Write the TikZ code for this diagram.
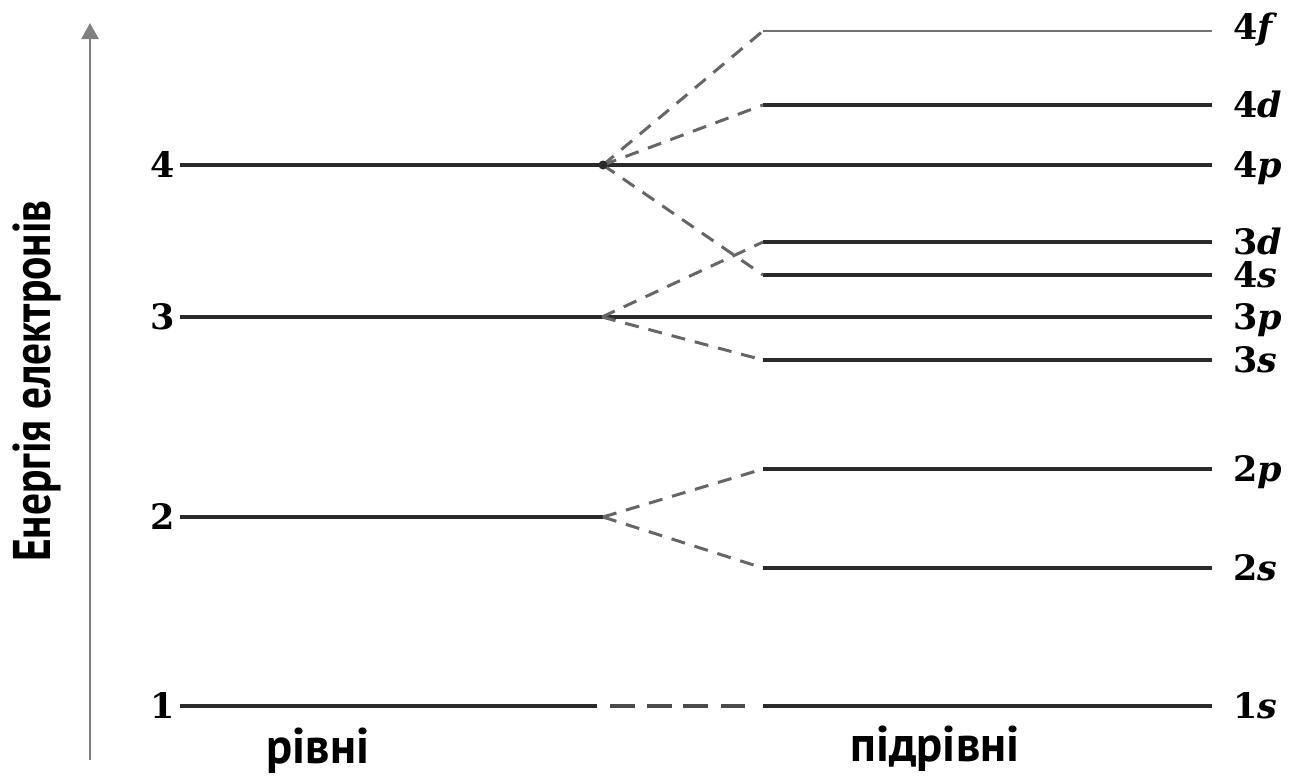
\documentclass[tikz,border=0pt]{standalone}
\usepackage{fontspec}
\setmainfont{DejaVu Serif}
\newfontfamily\labfont{DejaVu Serif}
\newfontfamily\ukfont[FakeStretch=0.82]{PT Sans}
\newfontfamily\ukbot[FakeStretch=0.97]{PT Sans}
\usetikzlibrary{arrows.meta}
\definecolor{linec}{HTML}{2A2A2A}
\definecolor{dashc}{HTML}{666666}
\definecolor{axisc}{HTML}{808080}
\begin{document}
\begin{tikzpicture}[x=1pt,y=-1pt,
  lvl/.style={line width=3.4pt, draw=linec},
  thinlvl/.style={line width=2pt, draw=black!55},
  conn/.style={line width=3pt, draw=dashc, dash pattern=on 14pt off 10pt},
  conn1/.style={line width=3.4pt, draw=linec!85, dash pattern=on 0pt off 13pt on 25pt off 12pt on 25pt off 11pt on 25pt off 13pt on 24pt off 20pt},
  numlab/.style={font=\labfont\bfseries\fontsize{35}{35}\selectfont, anchor=base east, inner sep=0pt},
  sublab/.style={font=\labfont\bfseries\fontsize{35}{35}\selectfont, anchor=base west, inner sep=0pt},
  axislab/.style={font=\ukfont\bfseries\fontsize{53}{53}\selectfont, rotate=90, inner sep=0pt},
  botlab/.style={font=\ukbot\bfseries\fontsize{50}{50}\selectfont, inner sep=0pt}
]
\useasboundingbox[fill=white] (0,0) rectangle (1291,780);

% axis
\coordinate (axb) at (90,760);
\coordinate (axt) at (90,23);
\draw[line width=2.6pt, draw=axisc, -{Triangle[length=16pt,width=17pt]}, color=axisc] (axb) -- (axt);
\node[axislab] (axlab) at (37,381) {Енергія електронів};

% levels (left)
\foreach \n/\y/\xe in {1/706/597, 2/517/603, 3/317/602, 4/165/603}{
  \coordinate (L\n s) at (180,\y);
  \coordinate (L\n e) at (\xe,\y);
  \draw[lvl] (L\n s) -- (L\n e);
  \node[numlab] (N\n) at (175,\y+12.5) {\n};
}

% sublevels (right)
\foreach \nm/\y in {4d/105, 3d/242, 4s/275, 3s/360, 2p/469, 2s/568, 1s/706}{
  \coordinate (S\nm s) at (763,\y);
  \coordinate (S\nm e) at (1212,\y);
  \draw[lvl] (S\nm s) -- (S\nm e);
}
\coordinate (S4fs) at (763,31);
\coordinate (S4fe) at (1212,31);
\draw[thinlvl] (S4fs) -- (S4fe);
\coordinate (S4pe) at (1212,165);
\coordinate (S3pe) at (1212,317);
\draw[lvl] (L4e) -- (S4pe);
\draw[lvl] (L3e) -- (S3pe);

% sublevel labels
\node[sublab] (T4f) at (1233,31+8) {4\textit{f}};
\node[sublab] (T4d) at (1233,105+12) {4\textit{d}};
\node[sublab] (T4p) at (1233,165+12) {4\textit{p}};
\node[sublab] (T3d) at (1233,242+12) {3\textit{d}};
\node[sublab] (T4s) at (1233,275+12) {4\textit{s}};
\node[sublab] (T3p) at (1233,317+12) {3\textit{p}};
\node[sublab] (T3s) at (1233,360+12) {3\textit{s}};
\node[sublab] (T2p) at (1233,469+12) {2\textit{p}};
\node[sublab] (T2s) at (1233,568+12) {2\textit{s}};
\node[sublab] (T1s) at (1233,706+12) {1\textit{s}};

% connectors
\draw[conn] (L4e) -- (S4fs);
\draw[conn] (L4e) -- (S4ds);
\draw[conn] (L4e) -- (S4ss);
\draw[conn] (L3e) -- (S3ds);
\draw[conn] (L3e) -- (S3ss);
\draw[conn] (L2e) -- (S2ps);
\draw[conn] (L2e) -- (S2ss);
\draw[conn1] (L1e) -- (S1ss);
\fill[linec] (L4e) circle (4.5pt);

% bottom labels
\node[botlab] (rivni) at (318,751) {рівні};
\node[botlab] (pidrivni) at (935,749) {підрівні};
\end{tikzpicture}
\end{document}
